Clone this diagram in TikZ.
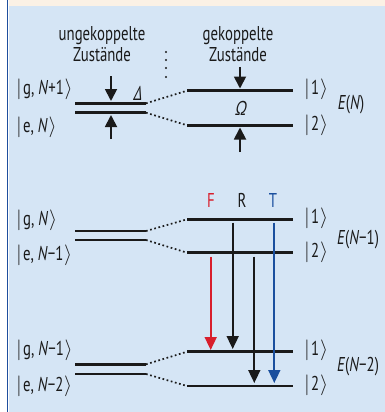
\documentclass[tikz,border=0pt]{standalone}
\usepackage{fontspec}
\setmainfont[FakeStretch=0.74]{PT Sans}
\newfontfamily\slgreek[FakeSlant=0.22, FakeStretch=0.74]{PT Sans}
\usetikzlibrary{arrows.meta}
\definecolor{bgblue}{HTML}{D5E5F5}
\definecolor{beige}{HTML}{FBF1E5}
\definecolor{framecol}{HTML}{1F4F9E}
\definecolor{fred}{HTML}{D81E2C}
\definecolor{tblue}{HTML}{1A4F9E}
\definecolor{ink}{HTML}{1A1A1A}
\newcommand\myket[1]{$\big\vert$\kern1.2pt#1\kern0.8pt$\big\rangle$}
\begin{document}
\begin{tikzpicture}[x=1pt,y=-1pt,
  levelline/.style={line width=2.6pt, draw=ink},
  linkline/.style={line width=1.7pt, draw=ink, dash pattern=on 1.7pt off 2.6pt},
  gaparrow/.style={line width=1.8pt, draw=ink, -{Triangle[length=12pt,width=12pt]}},
  trans/.style={line width=1.7pt, -{Triangle[length=13pt,width=12pt]}},
  lbl/.style={font=\fontsize{20}{19}\selectfont, inner sep=0pt, text=ink},
  headlbl/.style={font=\fontsize{20}{21}\selectfont, inner sep=0pt, text=ink, align=center}]
\useasboundingbox (0,0) rectangle (385,412);
\fill[white] (0,0) rectangle (385,412);
\fill[beige] (9,0) rectangle (385,6);
\fill[bgblue] (9,6) rectangle (385,412);
\draw[framecol, line width=1.4pt] (7.6,0) -- (7.6,412);

% headings
\node[headlbl] (hu) at (102,44) {ungekoppelte\\Zustände};
\node[headlbl] (hg) at (238,44) {gekoppelte\\Zustände};
\foreach \yy in {52,60,68,77} \fill[ink] (166,\yy) circle (1.1pt);

% ---------- section 1 ----------
\coordinate (a1l) at (75,103.3);  \coordinate (a1r) at (146,103.3);
\coordinate (a2l) at (75,112.7);  \coordinate (a2r) at (146,112.7);
\coordinate (b1l) at (187,90.7);  \coordinate (b1r) at (293,90.7);
\coordinate (b2l) at (187,125.3); \coordinate (b2r) at (293,125.3);
\draw[levelline] (a1l) -- (a1r); \draw[levelline] (a2l) -- (a2r);
\draw[levelline] (b1l) -- (b1r); \draw[levelline] (b2l) -- (b2r);
\draw[linkline] (a1r) -- (b1l); \draw[linkline] (a2r) -- (b2l);
\node[lbl, anchor=west] (ka1) at (16,89) {\myket{g, \textit{N}+1}};
\node[lbl, anchor=west] (ka2) at (16,127) {\myket{e, \textit{N}}};
\node[lbl, anchor=west] (kb1) at (304,89) {\myket{1}};
\node[lbl, anchor=west] (kb2) at (304,125) {\myket{2}};
\node[lbl] (en0) at (351,105) {\textit{E}(\textit{N})};
\coordinate (d1s) at (111,76);  \coordinate (d1e) at (111,101);
\coordinate (d2s) at (111,139); \coordinate (d2e) at (111,115);
\coordinate (o1s) at (240,67);  \coordinate (o1e) at (240,88.5);
\coordinate (o2s) at (240,152); \coordinate (o2e) at (240,127.5);
\draw[gaparrow] (d1s) -- (d1e); \draw[gaparrow] (d2s) -- (d2e);
\draw[gaparrow] (o1s) -- (o1e); \draw[gaparrow] (o2s) -- (o2e);
\node[lbl] (delta) at (137,93) {\slgreek Δ};
\node[lbl] (omega) at (240,108) {\slgreek Ω};

% ---------- section 2 ----------
\coordinate (c1l) at (75,231);    \coordinate (c1r) at (146,231);
\coordinate (c2l) at (75,240);    \coordinate (c2r) at (146,240);
\coordinate (e1l) at (187,219.3); \coordinate (e1r) at (293,219.3);
\coordinate (e2l) at (187,252.7); \coordinate (e2r) at (293,252.7);
\draw[levelline] (c1l) -- (c1r); \draw[levelline] (c2l) -- (c2r);
\draw[levelline] (e1l) -- (e1r); \draw[levelline] (e2l) -- (e2r);
\draw[linkline] (c1r) -- (e1l); \draw[linkline] (c2r) -- (e2l);
\node[lbl, anchor=west] (kc1) at (16,220) {\myket{g, \textit{N}}};
\node[lbl, anchor=west] (kc2) at (16,255) {\myket{e, \textit{N}−1}};
\node[lbl, anchor=west] (ke1) at (304,218) {\myket{1}};
\node[lbl, anchor=west] (ke2) at (304,252) {\myket{2}};
\node[lbl] (en1) at (358,240) {\textit{E}(\textit{N}−1)};
\node[lbl, text=fred] (lf) at (211,200) {F};
\node[lbl] (lr) at (242,200) {R};
\node[lbl, text=tblue] (lt) at (273,200) {T};

% ---------- section 3 ----------
\coordinate (f1l) at (75,364.3);  \coordinate (f1r) at (146,364.3);
\coordinate (f2l) at (75,374);    \coordinate (f2r) at (146,374);
\coordinate (g1l) at (187,351.7); \coordinate (g1r) at (293,351.7);
\coordinate (g2l) at (187,386);   \coordinate (g2r) at (293,386);
\draw[levelline] (f1l) -- (f1r); \draw[levelline] (f2l) -- (f2r);
\draw[levelline] (g1l) -- (g1r); \draw[levelline] (g2l) -- (g2r);
\draw[linkline] (f1r) -- (g1l); \draw[linkline] (f2r) -- (g2l);
\node[lbl, anchor=west] (kf1) at (16,350) {\myket{g, \textit{N}−1}};
\node[lbl, anchor=west] (kf2) at (16,386) {\myket{e, \textit{N}−2}};
\node[lbl, anchor=west] (kg1) at (304,350) {\myket{1}};
\node[lbl, anchor=west] (kg2) at (304,385) {\myket{2}};
\node[lbl] (en2) at (358,367) {\textit{E}(\textit{N}−2)};

% transitions
\coordinate (tfs) at (210.7,256.7); \coordinate (tfe) at (210.7,350);
\coordinate (trs) at (232.7,222.5); \coordinate (tre) at (232.7,349);
\coordinate (tks) at (254.3,256.7); \coordinate (tke) at (254.3,383);
\coordinate (tts) at (274.3,222.5); \coordinate (tte) at (274.3,383);
\draw[trans, draw=fred, fill=fred] (tfs) -- (tfe);
\draw[trans, draw=ink] (trs) -- (tre);
\draw[trans, draw=ink] (tks) -- (tke);
\draw[trans, draw=tblue] (tts) -- (tte);
\end{tikzpicture}
\end{document}
